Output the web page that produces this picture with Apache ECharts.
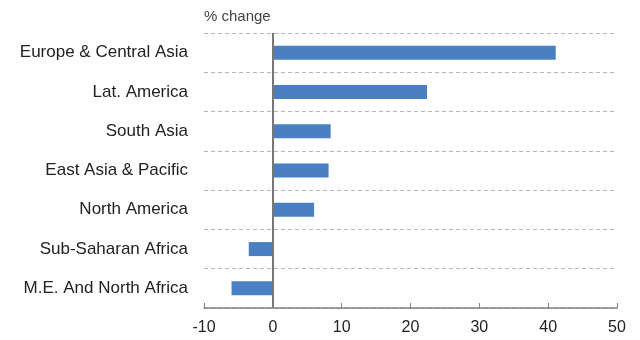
<!DOCTYPE html>
<html>
<head>
<meta charset="utf-8">
<script src="https://cdn.jsdelivr.net/npm/echarts@6/dist/echarts.min.js"></script>
<style>
  html, body { margin: 0; padding: 0; background: #fff; }
  #chart { width: 640px; height: 340px; }
</style>
</head>
<body>
<div id="chart"></div>
<script>
// Regional % change, top to bottom
const regions = [
  'Europe & Central Asia',
  'Lat. America',
  'South Asia',
  'East Asia & Pacific',
  'North America',
  'Sub-Saharan Africa',
  'M.E. And North Africa'
];
const changes = [41.1, 22.4, 8.4, 8.1, 6.0, -3.5, -6.0];
const xTicks = [-10, 0, 10, 20, 30, 40, 50];

const font = '"Liberation Sans", Arial, Helvetica, sans-serif';
const chart = echarts.init(document.getElementById('chart'), null, { renderer: 'canvas' });

chart.setOption({
  animation: false,
  title: {
    text: '% change',
    left: 199,
    top: 4,
    textStyle: { fontFamily: font, fontSize: 15, fontWeight: 'normal', color: '#444' }
  },
  grid: { left: 204, right: 23, top: 33, bottom: 32, containLabel: false },
  xAxis: {
    type: 'value',
    z: 5,
    min: xTicks[0],
    max: xTicks[xTicks.length - 1],
    interval: 10,
    axisLine: { show: true, onZero: false, lineStyle: { color: '#808080', width: 1.5 } },
    axisTick: { show: true, inside: true, length: 5, lineStyle: { color: '#808080' } },
    axisLabel: { fontFamily: font, fontSize: 16, color: '#222', margin: 12 },
    splitLine: { show: false }
  },
  yAxis: {
    type: 'category',
    z: 1,
    data: regions,
    inverse: true,
    axisLine: { show: false },
    axisTick: { show: false },
    axisLabel: { fontFamily: font, fontSize: 17, color: '#222', margin: 16 },
    splitLine: { show: true, lineStyle: { color: '#b5b5b5', type: [4, 3], width: 1 } }
  },
  series: [{
    type: 'bar',
    data: changes,
    barWidth: 14,
    itemStyle: { color: '#4a7fc1' },
    markLine: {
      silent: true,
      symbol: 'none',
      label: { show: false },
      lineStyle: { color: '#777', type: 'solid', width: 2 },
      data: [{ xAxis: 0 }]
    }
  }]
});
</script>
</body>
</html>
